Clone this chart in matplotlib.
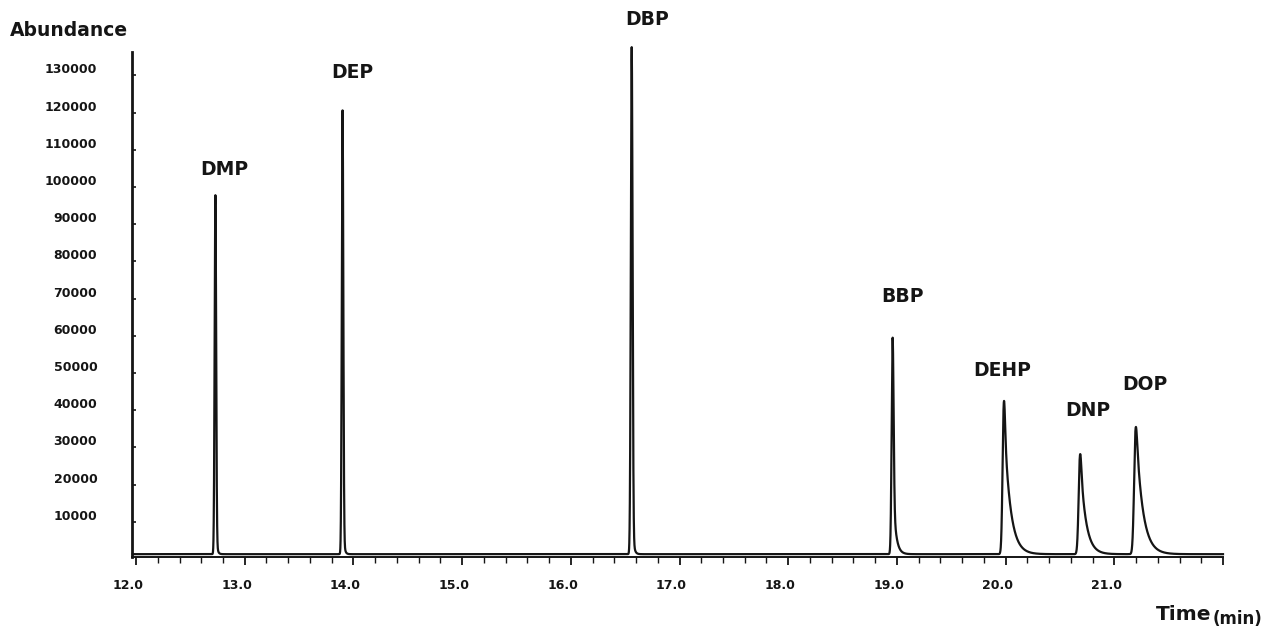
import math
import numpy as np
import matplotlib
matplotlib.use("Agg")
import matplotlib.pyplot as plt
from matplotlib.transforms import ScaledTranslation

# ---- data ----
compounds = ["DMP", "DEP", "DBP", "BBP", "DEHP", "DNP", "DOP"]
retention_time = [12.73, 13.90, 16.56, 18.96, 19.98, 20.68, 21.19]   # min
peak_height = [96500, 119300, 136300, 58200, 41200, 26900, 34200]   # abundance above baseline
peak_sigma = [0.007, 0.007, 0.008, 0.009, 0.011, 0.012, 0.013]      # min
tail_fraction = [0.10, 0.10, 0.10, 0.30, 0.70, 0.75, 0.80]
tail_tau = [0.010, 0.010, 0.012, 0.025, 0.055, 0.050, 0.060]        # min
baseline_level = 1300

label_x = [12.81, 13.99, 16.70, 19.05, 19.97, 20.76, 21.28]
label_y = [104600, 130800, 145000, 70700, 50800, 39800, 46800]

y_ticks = [10000, 20000, 30000, 40000, 50000, 60000, 70000,
           80000, 90000, 100000, 110000, 120000, 130000]
x_major = [12.0, 13.0, 14.0, 15.0, 16.0, 17.0, 18.0, 19.0, 20.0, 21.0]
x_major_labels = ["12.0", "13.0", "14.0", "15.0", "16.0", "17.0",
                  "18.0", "19.0", "20.0", "21.0"]

# ---- build trace from the peak table ----
erf = np.frompyfunc(math.erf, 1, 1)
t = np.linspace(11.97, 22.0, 24000)
signal = np.full_like(t, float(baseline_level))
for rt, h, s, f, tau in zip(retention_time, peak_height, peak_sigma,
                            tail_fraction, tail_tau):
    d = t - rt
    g = np.exp(-0.5 * (d / s) ** 2)
    step = 0.5 * (1 + erf(d / (math.sqrt(2) * s)).astype(float))
    tail = np.exp(-np.clip(d, 0, None) / tau) * step
    shape = (1 - f) * g + f * tail
    signal += h * shape / shape.max()

fig = plt.figure(figsize=(12.76, 6.28), dpi=100)
ax = fig.add_axes([132 / 1276, 1 - 557 / 628, (1223 - 132) / 1276, (557 - 52) / 628])
ink = "#151515"
ax.plot(t, signal, color=ink, lw=1.6, clip_on=False, zorder=3)

ax.set_xlim(11.963, 22.0)
ax.set_ylim(540, 136300)

for sp in ["top", "right"]:
    ax.spines[sp].set_visible(False)
ax.spines["left"].set_linewidth(2.0)
ax.spines["bottom"].set_linewidth(1.4)
ax.spines["left"].set_color(ink)
ax.spines["bottom"].set_color(ink)

ax.set_yticks(y_ticks)
ax.set_yticklabels([str(v) for v in y_ticks], fontsize=9, fontweight="bold",
                   family="DejaVu Sans")
ax.tick_params(axis="y", direction="in", length=3, width=1.2, pad=25, colors=ink)
off_y = ScaledTranslation(0, 7 / 100, fig.dpi_scale_trans)
for lab in ax.get_yticklabels():
    lab.set_transform(lab.get_transform() + off_y)

ax.set_xticks(x_major + [22.0])
ax.set_xticklabels(x_major_labels + [""], fontsize=9, fontweight="bold",
                   family="DejaVu Sans")
ax.set_xticks(np.arange(12.2, 22.0, 0.2), minor=True)
ax.tick_params(axis="x", which="major", direction="out", length=6, width=1.3,
               pad=10, colors=ink)
ax.tick_params(axis="x", which="minor", direction="out", length=4, width=1.0,
               colors=ink)
off_x = ScaledTranslation(-8 / 100, 0, fig.dpi_scale_trans)
for lab in ax.get_xticklabels():
    lab.set_transform(lab.get_transform() + off_x)

for name, lx, ly in zip(compounds, label_x, label_y):
    ax.text(lx, ly, name, ha="center", va="center", fontsize=13.5,
            fontweight="bold", color=ink, clip_on=False, family="DejaVu Sans")

fig.text(10 / 1276, 1 - 30 / 628, "Abundance", ha="left", va="center",
         fontsize=13.5, fontweight="bold", color=ink, family="DejaVu Sans")
fig.text(1211 / 1276, 1 - 614 / 628, "Time", ha="right", va="center",
         fontsize=14.5, fontweight="bold", color=ink, family="DejaVu Sans")
fig.text(1213 / 1276, 1 - 619 / 628, "(min)", ha="left", va="center",
         fontsize=12, fontweight="bold", color=ink, family="DejaVu Sans")

fig.savefig("out.png", dpi=100, facecolor="white")
